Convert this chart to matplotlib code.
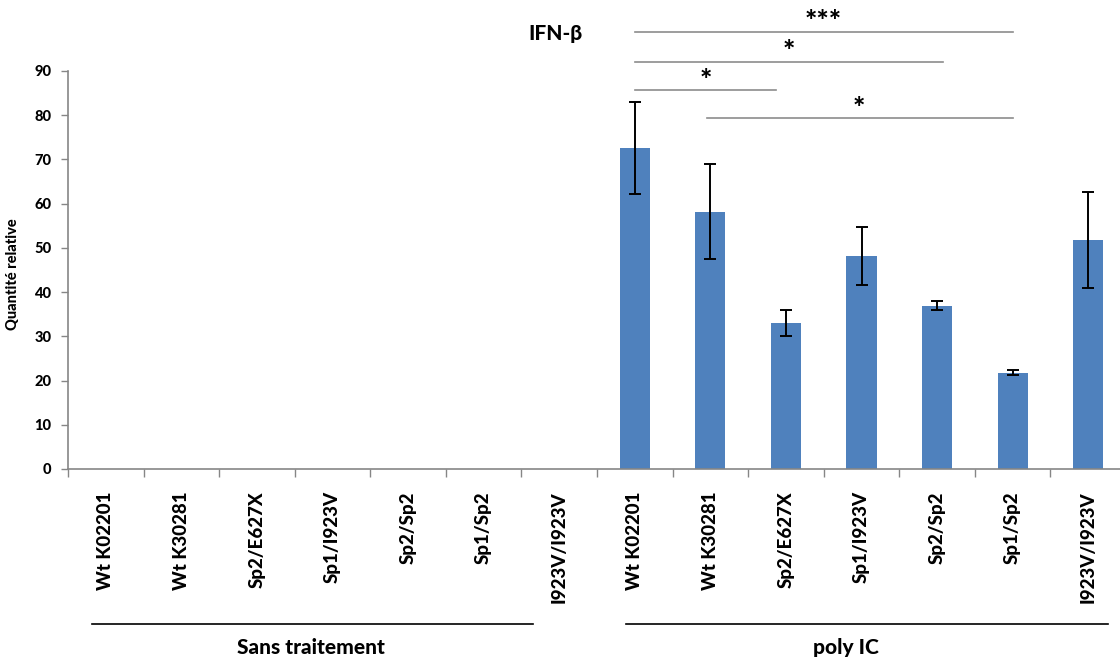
import matplotlib
matplotlib.use("Agg")
import matplotlib.pyplot as plt
import matplotlib.transforms as mtransforms
import numpy as np

plt.rcParams['font.family'] = ['Lato', 'DejaVu Sans']

# genotypes, repeated for both conditions
genotypes = ["Wt K02201", "Wt K30281", "Sp2/E627X", "Sp1/I923V",
             "Sp2/Sp2", "Sp1/Sp2", "I923V/I923V"]
labels = genotypes + genotypes

# IFN-b relative quantity (untreated then poly IC)
values = [0, 0, 0, 0, 0, 0, 0,
          72.5, 58.2, 33.0, 48.2, 36.9, 21.8, 51.8]
errors = [0, 0, 0, 0, 0, 0, 0,
          10.4, 10.8, 3.0, 6.6, 1.0, 0.5, 10.9]

# significance brackets: start, end, height, star label, star x, star y
sig_start = [7, 7, 7, 7.95]
sig_end = [12, 11.08, 8.87, 12]
sig_y = [98.9, 92.1, 85.6, 79.4]
sig_text = ["***", "*", "*", "*"]
sig_tx = [9.49, 9.04, 7.94, 9.97]
sig_ty = [101.0, 94.2, 87.8, 81.5]

groups = ["Sans traitement", "poly IC"]
group_span = [(-0.18, 5.65), (6.88, 13.26)]
group_center = [2.72, 9.8]

fig = plt.figure(figsize=(11.2, 6.61), dpi=100)
ax = fig.add_axes([68 / 1120, 1 - 469 / 661, 1058 / 1120, 398 / 661])

x = np.arange(len(labels))
vals = np.array(values)
errs = np.array(errors)
ax.bar(x, vals, width=0.4, color="#4F81BD", zorder=2)
m = errs > 0
ax.errorbar(x[m], vals[m], yerr=errs[m], fmt="none", ecolor="black",
            elinewidth=1.4, capsize=4, capthick=1.4, zorder=3)

ax.set_xlim(-0.5, 13.5)
ax.set_ylim(0, 90)
ax.set_yticks(np.arange(0, 91, 10))
for lab in ax.get_yticklabels():
    lab.set_fontweight("black")
ax.tick_params(axis="y", labelsize=10.5, length=5, color="#868686", width=1, pad=7)

ax.set_xticks(x)
ax.set_xticklabels(labels, rotation=90, fontsize=13.5, fontweight="black")
ax.set_xticks(np.arange(-0.5, 13.6, 1), minor=True)
ax.tick_params(axis="x", which="major", length=0, pad=16)
ax.tick_params(axis="x", which="minor", length=6, color="#868686", width=1)

for s in ["top", "right"]:
    ax.spines[s].set_visible(False)
for s in ["left", "bottom"]:
    ax.spines[s].set_color("#868686")
    ax.spines[s].set_linewidth(1.2)

ax.set_ylabel("Quantité relative", fontsize=10.5, fontweight="black")
ax.yaxis.set_label_coords(-0.045, 0.49)

# significance brackets above the bars
for x0, x1, y, t, tx, ty in zip(sig_start, sig_end, sig_y, sig_text, sig_tx, sig_ty):
    ax.plot([x0, x1], [y, y], color="#8c8c8c", lw=1.2, clip_on=False)
    ax.text(tx, ty, t, ha="center", va="center", fontsize=21,
            fontweight="black", clip_on=False)

ax.text(5.95, 98.5, "IFN-β", ha="center", va="center", fontsize=15,
        fontweight="black", clip_on=False)

# condition groups under the tick labels
trans = mtransforms.blended_transform_factory(ax.transData, ax.transAxes)
for g, (g0, g1), gc in zip(groups, group_span, group_center):
    ax.plot([g0, g1], [-0.389, -0.389], color="black", lw=1.2,
            transform=trans, clip_on=False)
    ax.text(gc, -0.449, g, ha="center", va="center", fontsize=15,
            fontweight="black", transform=trans)

fig.savefig("out.png", dpi=100)
